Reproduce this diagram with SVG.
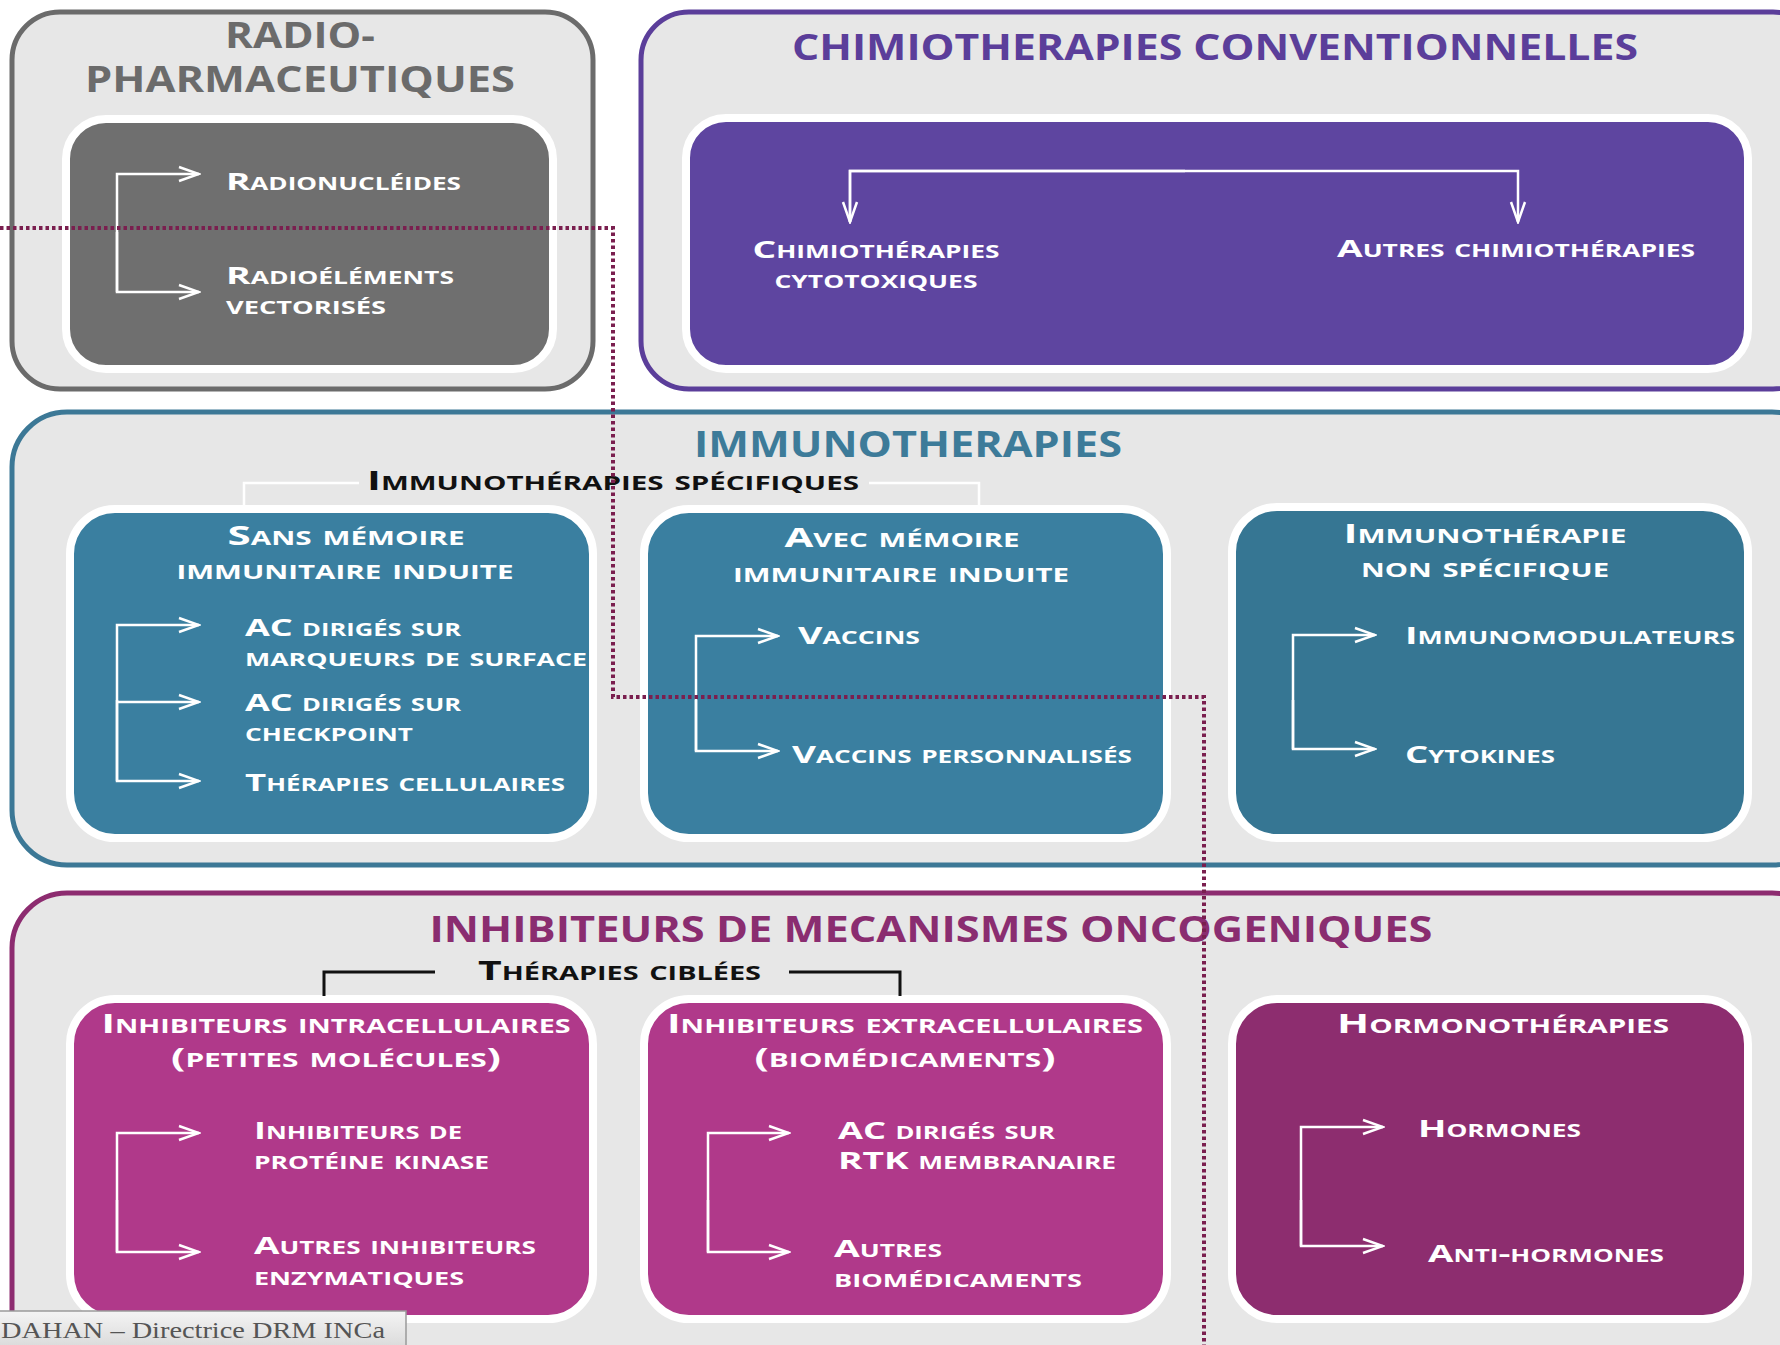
<svg xmlns="http://www.w3.org/2000/svg" width="1780" height="1345" viewBox="0 0 1780 1345">
<defs>
<style>
.outer{fill:#e7e7e7;stroke-width:5}
.inner{stroke:#fff;stroke-width:8}
.sc{font-family:"Open Sans","Liberation Sans",sans-serif;font-weight:700;font-variant:small-caps;fill:#fff}
.it{font-size:24px}
.hd{font-size:27px}
.ttl{font-family:"Open Sans","Liberation Sans",sans-serif;font-weight:700;font-size:35px}
.blk{fill:#111}
.wl{fill:none;stroke:#fff;stroke-width:2.5}
.arr{fill:none;stroke:#fff;stroke-width:2.5;marker-end:url(#ah)}
.dot{fill:none;stroke:#7a1f4f;stroke-width:4;stroke-dasharray:3.5 3}
</style>
<marker id="ah" viewBox="0 0 24 18" markerWidth="24" markerHeight="18" refX="22" refY="9" orient="auto" markerUnits="userSpaceOnUse">
<path d="M2,2 L22,9 L2,16" fill="none" stroke="#fff" stroke-width="2.5"/>
</marker>
<linearGradient id="ft" x1="0" y1="0" x2="0" y2="1">
<stop offset="0" stop-color="#f4f4f4"/><stop offset="1" stop-color="#d8d8d8"/>
</linearGradient>
</defs>
<rect width="1780" height="1345" fill="#fff"/>

<g id="radiopharmaceutiques">
<rect class="outer" x="12" y="12" width="581" height="377" rx="48" stroke="#6b6b6b"/>
<text class="ttl" x="300" y="48" text-anchor="middle" fill="#6b6b6b" font-size="27" textLength="150" lengthAdjust="spacingAndGlyphs">RADIO-</text>
<text class="ttl" x="300" y="92" text-anchor="middle" fill="#6b6b6b" font-size="29" textLength="430" lengthAdjust="spacingAndGlyphs">PHARMACEUTIQUES</text>
<rect class="inner" x="66" y="119" width="487" height="250" rx="40" fill="#6f6f6f"/>
<text class="sc it" x="226" y="190" textLength="235" lengthAdjust="spacingAndGlyphs">Radionucléides</text>
<text class="sc it" x="226" y="284" textLength="228" lengthAdjust="spacingAndGlyphs">Radioéléments</text>
<text class="sc it" x="226" y="314" textLength="160" lengthAdjust="spacingAndGlyphs">vectorisés</text>
</g>

<g id="chimiotherapies">
<rect class="outer" x="641" y="12" width="1180" height="377" rx="48" stroke="#5b3e9a"/>
<text class="ttl" x="1215" y="60" text-anchor="middle" fill="#5b3e9a" textLength="846" lengthAdjust="spacingAndGlyphs">CHIMIOTHERAPIES CONVENTIONNELLES</text>
<rect class="inner" x="686" y="118" width="1062" height="251" rx="40" fill="#5e45a0"/>
<text class="sc it" x="876" y="258" text-anchor="middle" textLength="247" lengthAdjust="spacingAndGlyphs">Chimiothérapies</text>
<text class="sc it" x="876" y="288" text-anchor="middle" textLength="203" lengthAdjust="spacingAndGlyphs">cytotoxiques</text>
<text class="sc it" x="1516" y="257" text-anchor="middle" textLength="358" lengthAdjust="spacingAndGlyphs">Autres chimiothérapies</text>
</g>

<g id="immunotherapies">
<rect class="outer" x="12" y="412" width="1815" height="453" rx="55" stroke="#3c7896"/>
<text class="ttl" x="908" y="457" text-anchor="middle" fill="#3d7b99" textLength="428" lengthAdjust="spacingAndGlyphs">IMMUNOTHERAPIES</text>
<text class="sc hd blk" x="367" y="490" textLength="492" lengthAdjust="spacingAndGlyphs">Immunothérapies spécifiques</text>
</g>

<g id="sans-memoire">
<rect class="inner" x="70" y="509" width="523" height="329" rx="45" fill="#3a7fa0"/>
<text class="sc hd" x="346" y="545" text-anchor="middle" textLength="237" lengthAdjust="spacingAndGlyphs">Sans mémoire</text>
<text class="sc hd" x="345" y="579" text-anchor="middle" textLength="337" lengthAdjust="spacingAndGlyphs">immunitaire  induite</text>
<text class="sc it" x="245" y="636" textLength="216" lengthAdjust="spacingAndGlyphs">AC dirigés sur</text>
<text class="sc it" x="245" y="666" textLength="342" lengthAdjust="spacingAndGlyphs">marqueurs de surface</text>
<text class="sc it" x="245" y="711" textLength="216" lengthAdjust="spacingAndGlyphs">AC dirigés sur</text>
<text class="sc it" x="245" y="741" textLength="168" lengthAdjust="spacingAndGlyphs">checkpoint</text>
<text class="sc it" x="245" y="791" textLength="320" lengthAdjust="spacingAndGlyphs">Thérapies cellulaires</text>
</g>

<g id="avec-memoire">
<rect class="inner" x="644" y="509" width="523" height="329" rx="45" fill="#3a7fa0"/>
<text class="sc hd" x="902" y="547" text-anchor="middle" textLength="235" lengthAdjust="spacingAndGlyphs">Avec mémoire</text>
<text class="sc hd" x="901" y="582" text-anchor="middle" textLength="336" lengthAdjust="spacingAndGlyphs">immunitaire  induite</text>
<text class="sc it" x="798" y="644" textLength="122" lengthAdjust="spacingAndGlyphs">Vaccins</text>
<text class="sc it" x="792" y="763" textLength="340" lengthAdjust="spacingAndGlyphs">Vaccins personnalisés</text>
</g>

<g id="non-specifique">
<rect class="inner" x="1232" y="507" width="516" height="331" rx="45" fill="#367693"/>
<text class="sc hd" x="1485" y="543" text-anchor="middle" textLength="283" lengthAdjust="spacingAndGlyphs">Immunothérapie</text>
<text class="sc hd" x="1485" y="577" text-anchor="middle" textLength="248" lengthAdjust="spacingAndGlyphs">non spécifique</text>
<text class="sc it" x="1405" y="644" textLength="330" lengthAdjust="spacingAndGlyphs">Immunomodulateurs</text>
<text class="sc it" x="1405" y="763" textLength="150" lengthAdjust="spacingAndGlyphs">Cytokines</text>
</g>

<g id="inhibiteurs">
<rect class="outer" x="12" y="893" width="1815" height="500" rx="55" stroke="#8d2c70"/>
<text class="ttl" x="931" y="942" text-anchor="middle" fill="#8a2d70" textLength="1003" lengthAdjust="spacingAndGlyphs">INHIBITEURS DE MECANISMES ONCOGENIQUES</text>
<text class="sc hd blk" x="478" y="980" textLength="283" lengthAdjust="spacingAndGlyphs">Thérapies ciblées</text>
</g>

<g id="intracellulaires">
<rect class="inner" x="70" y="999" width="523" height="320" rx="45" fill="#b0398a"/>
<text class="sc hd" x="336" y="1033" text-anchor="middle" textLength="469" lengthAdjust="spacingAndGlyphs">Inhibiteurs intracellulaires</text>
<text class="sc hd" x="336" y="1067" text-anchor="middle" textLength="330" lengthAdjust="spacingAndGlyphs">(petites molécules)</text>
<text class="sc it" x="254" y="1139" textLength="208" lengthAdjust="spacingAndGlyphs">Inhibiteurs de</text>
<text class="sc it" x="254" y="1169" textLength="235" lengthAdjust="spacingAndGlyphs">protéine kinase</text>
<text class="sc it" x="254" y="1254" textLength="282" lengthAdjust="spacingAndGlyphs">Autres inhibiteurs</text>
<text class="sc it" x="254" y="1285" textLength="210" lengthAdjust="spacingAndGlyphs">enzymatiques</text>
</g>

<g id="extracellulaires">
<rect class="inner" x="644" y="999" width="523" height="320" rx="45" fill="#b0398a"/>
<text class="sc hd" x="905" y="1033" text-anchor="middle" textLength="476" lengthAdjust="spacingAndGlyphs">Inhibiteurs extracellulaires</text>
<text class="sc hd" x="905" y="1067" text-anchor="middle" textLength="301" lengthAdjust="spacingAndGlyphs">(biomédicaments)</text>
<text class="sc it" x="838" y="1139" textLength="217" lengthAdjust="spacingAndGlyphs">AC dirigés sur</text>
<text class="sc it" x="838" y="1169" textLength="278" lengthAdjust="spacingAndGlyphs">RTK membranaire</text>
<text class="sc it" x="834" y="1257" textLength="108" lengthAdjust="spacingAndGlyphs">Autres</text>
<text class="sc it" x="834" y="1287" textLength="248" lengthAdjust="spacingAndGlyphs">biomédicaments</text>
</g>

<g id="hormonotherapies">
<rect class="inner" x="1232" y="999" width="516" height="320" rx="45" fill="#8d2d6f"/>
<text class="sc hd" x="1503" y="1033" text-anchor="middle" textLength="332" lengthAdjust="spacingAndGlyphs">Hormonothérapies</text>
<text class="sc it" x="1418" y="1137" textLength="163" lengthAdjust="spacingAndGlyphs">Hormones</text>
<text class="sc it" x="1428" y="1262" textLength="236" lengthAdjust="spacingAndGlyphs">Anti-hormones</text>
</g>

<g id="connectors">
<path class="arr" d="M117,292 V174 H199"/>
<path class="arr" d="M117,232 V292 H199"/>
<path class="arr" d="M850,222 V171 H1518 V222"/>
<path class="arr" d="M1185,171 H850 V222"/>
<path class="wl" d="M244,509 V483 H359"/>
<path class="wl" d="M869,483 H979 V509"/>
<path class="arr" d="M117,781 V625 H199"/>
<path class="arr" d="M117,702 H199"/>
<path class="arr" d="M117,700 V781 H199"/>
<path class="arr" d="M696,751 V636 H778"/>
<path class="arr" d="M696,700 V751 H778"/>
<path class="arr" d="M1293,749 V635 H1375"/>
<path class="arr" d="M1293,700 V749 H1375"/>
<path d="M324,996 V972 H435" fill="none" stroke="#111" stroke-width="3"/>
<path d="M789,972 H900 V996" fill="none" stroke="#111" stroke-width="3"/>
<path class="arr" d="M117,1252 V1133 H199"/>
<path class="arr" d="M117,1200 V1252 H199"/>
<path class="arr" d="M708,1252 V1133 H789"/>
<path class="arr" d="M708,1200 V1252 H789"/>
<path class="arr" d="M1301,1246 V1127 H1383"/>
<path class="arr" d="M1301,1200 V1246 H1383"/>
<path class="dot" d="M0,228 H613 V697 H1204 V1345"/>
</g>

<g id="footer">
<rect x="-2" y="1311" width="408" height="40" fill="url(#ft)" stroke="#9a9a9a" stroke-width="1.5"/>
<text x="1" y="1338" font-family="Liberation Serif,serif" font-size="24" fill="#555" textLength="384" lengthAdjust="spacingAndGlyphs">DAHAN – Directrice DRM INCa</text>
</g>
</svg>
